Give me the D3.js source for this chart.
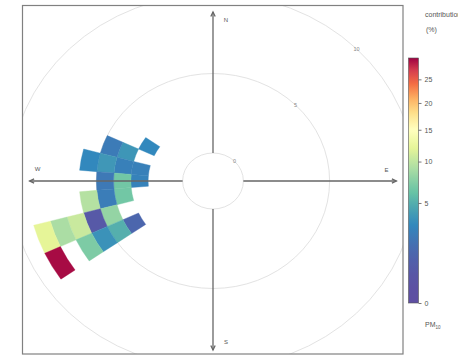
<!DOCTYPE html>
<html><head><meta charset="utf-8">
<script src="https://cdn.jsdelivr.net/npm/d3@7"></script>
<style>body{margin:0;background:#fff;}svg{display:block;font-family:"Liberation Sans",Arial,sans-serif;}</style>
</head><body>
<svg id="c" width="458" height="355"></svg>
<script>
// ---- data ----
const tileDir   = [300, 290, 290, 280, 280, 280, 280, 270, 270, 270, 260, 260, 260, 250, 250, 250, 250, 250, 240, 240, 240, 240, 240];
const tileSpeed = [2,   3,   4,   2,   3,   4,   5,   2,   3,   4,   3,   4,   5,   4,   5,   6,   7,   8,   3,   4,   5,   6,   8];
const tileValue = [3.0, 3.7, 2.3, 2.6, 2.6, 3.8, 3.0, 2.7, 6.5, 2.2, 6.5, 2.4, 9.5, 8.0, 0.5, 10.5, 9.0, 12.0, 1.2, 5.0, 3.5, 7.0, 29.5];
const ringValues = [0, 5, 10];
const ringLabels = ["0", "5", "10"];
const compassLabels = ["N", "E", "S", "W"];
const compassAngles = [0, 90, 180, 270];
const keyTicks = [0, 5, 10, 15, 20, 25];
const keyMax = 30;
const palette = ["#5E4FA2","#3288BD","#66C2A5","#ABDDA4","#E6F598","#FFFFBF","#FEE08B","#FDAE61","#F46D43","#D53E4F","#9E0142"];

// ---- layout ----
const svg = d3.select("#c");
const cx = 213, cy = 181, sx = 1.085;
const r = d3.scaleLinear().domain([0, 10]).range([28, 187]);
const axisMax = 8.87;
const color = d3.scaleLinear()
  .domain(palette.map((_, i) => i * keyMax / (palette.length - 1)))
  .range(palette).interpolate(d3.interpolateRgb).clamp(true);

svg.append("clipPath").attr("id", "pc").append("rect")
  .attr("x", 23).attr("y", 6).attr("width", 380).attr("height", 348);

const panel = svg.append("g").attr("clip-path", "url(#pc)");
const g = panel.append("g").attr("transform", `translate(${cx},${cy}) scale(${sx},1)`);

// rings
g.selectAll("circle.ring").data(ringValues).join("circle")
  .attr("r", d => r(d)).attr("fill", "none")
  .attr("stroke", "#e3e3e3").attr("stroke-width", 1)
  .attr("vector-effect", "non-scaling-stroke");

// tiles
const arc = d3.arc();
const rad = Math.PI / 180;
g.selectAll("path.tile").data(tileDir.map((d, i) => ({dir: d, ws: tileSpeed[i], v: tileValue[i]})))
  .join("path")
  .attr("d", d => arc({innerRadius: r(d.ws), outerRadius: r(d.ws + 1),
                        startAngle: (d.dir - 5) * rad, endAngle: (d.dir + 5) * rad}))
  .attr("fill", d => color(d.v))
  .attr("stroke", d => color(d.v)).attr("stroke-width", 0.4)
  .attr("vector-effect", "non-scaling-stroke");

// compass axes with arrows (drawn in pixel space)
function pt(angleDeg, radius) {
  const a = angleDeg * rad;
  return [cx + sx * radius * Math.sin(a), cy - radius * Math.cos(a)];
}
const axesG = panel.append("g").attr("stroke", "#666").attr("stroke-width", 1.3).attr("fill", "none");
compassAngles.forEach(a => {
  const p0 = pt(a, r(0)), p1 = pt(a, r(axisMax));
  axesG.append("line").attr("x1", p0[0]).attr("y1", p0[1]).attr("x2", p1[0]).attr("y2", p1[1]);
  const ang = Math.atan2(p1[1] - p0[1], p1[0] - p0[0]);
  const L = 5, w = 0.45;
  const h1 = [p1[0] - L * Math.cos(ang - w), p1[1] - L * Math.sin(ang - w)];
  const h2 = [p1[0] - L * Math.cos(ang + w), p1[1] - L * Math.sin(ang + w)];
  axesG.append("path").attr("d", `M${h1[0]},${h1[1]}L${p1[0]},${p1[1]}L${h2[0]},${h2[1]}`);
});

// compass labels
const labOff = [[13, 10], [-10, -9], [13, -6], [8, -10]];
compassLabels.forEach((t, i) => {
  const p = pt(compassAngles[i], r(axisMax));
  panel.append("text").attr("x", p[0] + labOff[i][0]).attr("y", p[1] + labOff[i][1])
    .attr("text-anchor", "middle").attr("font-size", 6).attr("fill", "#555").text(t);
});

// ring labels at 45 degrees
ringValues.forEach((v, i) => {
  const p = pt(45, r(v));
  panel.append("text").attr("x", p[0]).attr("y", p[1] + 2).attr("text-anchor", "middle")
    .attr("font-size", 5.5).attr("fill", "#888").text(ringLabels[i]);
});

// panel border
svg.append("rect").attr("x", 22.5).attr("y", 5.5).attr("width", 380.5).attr("height", 348.5)
  .attr("fill", "none").attr("stroke", "#808080").attr("stroke-width", 1.2);

// ---- colour key ----
const ky = d3.scaleSqrt().domain([0, keyMax]).range([303, 58]);
const defs = svg.append("defs");
const grad = defs.append("linearGradient").attr("id", "kg").attr("x1", 0).attr("y1", 1).attr("x2", 0).attr("y2", 0);
d3.range(0, 101).forEach(i => {
  const y = 303 - (303 - 58) * i / 100;
  grad.append("stop").attr("offset", i + "%").attr("stop-color", color(ky.invert(y)));
});
svg.append("rect").attr("x", 408.5).attr("y", 58).attr("width", 10).attr("height", 245)
  .attr("fill", "url(#kg)").attr("stroke", "#555").attr("stroke-width", 0.6);
const keyAxis = d3.axisRight(ky).tickValues(keyTicks).tickSize(3).tickPadding(3);
const ka = svg.append("g").attr("transform", "translate(418.5,0)").call(keyAxis);
ka.select(".domain").remove();
ka.selectAll("line").attr("stroke", "#555").attr("stroke-width", 0.8);
ka.selectAll("text").attr("font-size", 7).attr("fill", "#555").attr("font-family", "Liberation Sans, Arial, sans-serif");

svg.append("text").attr("x", 425).attr("y", 17).attr("font-size", 7).attr("fill", "#555").text("contribution");
svg.append("text").attr("x", 426).attr("y", 32).attr("font-size", 7).attr("fill", "#555").text("(%)");
const pm = svg.append("text").attr("x", 425).attr("y", 327).attr("font-size", 7).attr("fill", "#555");
pm.append("tspan").text("PM");
pm.append("tspan").attr("font-size", 4.5).attr("dy", 1.5).text("10");
</script>
</body></html>
